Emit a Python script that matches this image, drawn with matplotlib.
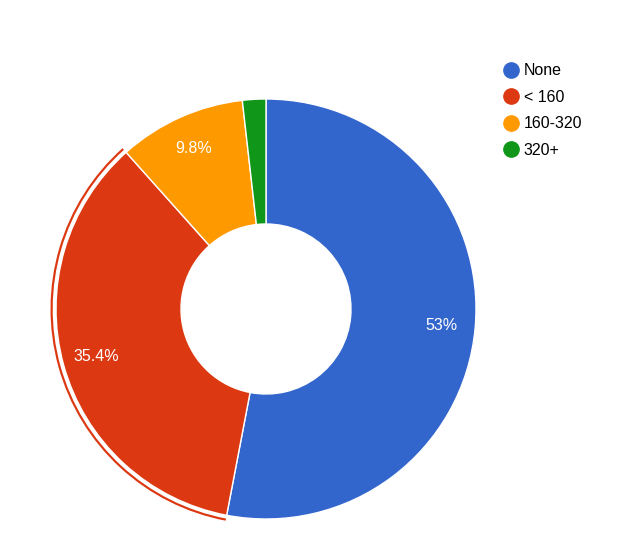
import matplotlib.pyplot as plt
from matplotlib.patches import Wedge
from matplotlib.lines import Line2D

labels = ['None', '< 160', '160-320', '320+']
values = [53.0, 35.4, 9.8, 1.8]
colors = ['#3366cc', '#dc3912', '#ff9900', '#109618']

plt.rcParams['font.family'] = ['Liberation Sans', 'DejaVu Sans']

fig = plt.figure(figsize=(6.25, 5.42), dpi=100)
ax = fig.add_axes([0, 0, 1, 1])
ax.set_xlim(0, 625)
ax.set_ylim(0, 542)
ax.set_aspect('equal')
ax.axis('off')

cx, cy, R = 266, 542 - 309, 210


def pct(p):
  if p < 5:
    return ''
  s = f'{p:.1f}'
  return s[:-2] + '%' if s.endswith('.0') else s + '%'


wedges, texts, autotexts = ax.pie(
  values, colors=colors, startangle=90, counterclock=False,
  center=(cx, cy), radius=R, autopct=pct, pctdistance=0.84,
  wedgeprops=dict(width=R - 85, edgecolor='white', linewidth=1),
  textprops=dict(color='white', fontsize=11.5))
ax.set_xlim(0, 625)
ax.set_ylim(0, 542)

# highlight ring around the selected slice
sel = 1
w = wedges[sel]
ax.add_patch(Wedge((cx, cy), R + 5.5, w.theta1, w.theta2, width=2.2,
                   facecolor=colors[sel], edgecolor='none'))

handles = [Line2D([], [], marker='o', linestyle='none', markersize=11,
                  markerfacecolor=c, markeredgecolor=c) for c in colors]
fig.legend(handles, labels, loc='upper left', bbox_to_anchor=(495 / 625, 1 - 57 / 542),
           frameon=False, fontsize=11.5, handletextpad=0.2, labelspacing=0.72,
           handlelength=1.2, borderaxespad=0)

fig.savefig('out.png', dpi=100)
